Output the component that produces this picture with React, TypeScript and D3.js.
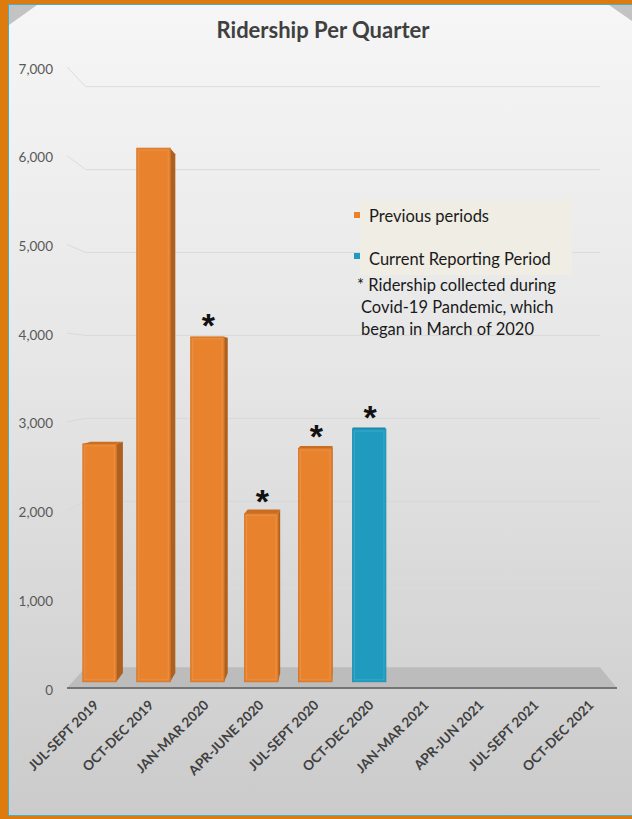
import React from "react";
import * as d3 from "d3";

const categories = [
  "JUL-SEPT 2019",
  "OCT-DEC 2019",
  "JAN-MAR 2020",
  "APR-JUNE 2020",
  "JUL-SEPT 2020",
  "OCT-DEC 2020",
  "JAN-MAR 2021",
  "APR-JUN 2021",
  "JUL-SEPT 2021",
  "OCT-DEC 2021",
];
const ridership = [2735, 6135, 3965, 1935, 2685, 2905];
const periodType = ["previous", "previous", "previous", "previous", "previous", "current"];
const covidFlag = [false, false, true, true, true, true];
const yTicks = [0, 1000, 2000, 3000, 4000, 5000, 6000, 7000];
const legendItems = ["Previous periods", "Current Reporting Period"];
const footnoteLines = [
  "* Ridership collected during",
  "Covid-19 Pandemic, which",
  "began in March of 2020",
];
const title = "Ridership Per Quarter";

const W = 632;
const H = 819;
const VX = 354;
const VY = 369;
const K = 0.065;
const D_FRONT = 0.3;
const D_BACK = 0.72;
const COLORS: Record<string, { front: string; side: string; top: string; edge: string }> = {
  previous: { front: "#E8822D", side: "#AE601F", top: "#C96D22", edge: "#D2701F" },
  current: { front: "#1F9BC0", side: "#17779A", top: "#1A86AA", edge: "#1C8DB2" },
};

const P = (x: number, y: number, d: number): [number, number] => {
  const s = 1 - K * d;
  return [VX + (x - VX) * s, VY + (y - VY) * s];
};
const poly = (pts: [number, number][]) => pts.map((p) => p.join(",")).join(" ");

export default function App() {
  const x = d3.scaleBand<string>().domain(categories).range([67, 617]).paddingInner(0.38).paddingOuter(0.19);
  const y = d3.scaleLinear().domain([0, 7000]).range([688, 67]);
  const fmt = d3.format(",");
  const bw = x.bandwidth();
  const y0 = y(0);

  const floorPts: [number, number][] = [
    P(67, y0, 0),
    P(617, y0, 0),
    P(617, y0, 1),
    P(67, y0, 1),
  ];

  return (
    <svg width={W} height={H} style={{ position: "absolute", left: 0, top: 0 }} fontFamily="Lato, 'Open Sans', sans-serif">
      <defs>
        <linearGradient id="bg" x1="0" y1="0" x2="0" y2="1">
          <stop offset="0%" stopColor="#f6f6f6" />
          <stop offset="45%" stopColor="#e6e6e6" />
          <stop offset="100%" stopColor="#cbcbcb" />
        </linearGradient>
      </defs>
      <rect x={0} y={0} width={W} height={H} fill="#DE7B0E" />
      <rect x={8} y={4} width={W} height={812} fill="#4BACC6" />
      <rect x={9} y={5} width={W} height={810} fill="url(#bg)" />
      <polygon points="9,5 37,5 9,25" fill="#c3c3c3" />
      <polygon points="609,5 632,5 632,21" fill="#c3c3c3" />

      <text x={323} y={38} textAnchor="middle" fontSize={22} fontWeight="bold" fill="#404040">
        {title}
      </text>

      {/* gridlines */}
      {yTicks.filter((t) => t > 0).map((t) => {
        const a = P(67, y(t), 0);
        const b = P(67, y(t), 1);
        const c = P(617, y(t), 1);
        return (
          <polyline key={t} points={poly([a, b, c])} fill="none" stroke="#d6d6d6" strokeWidth={1} opacity={0.8} />
        );
      })}

      {/* y labels */}
      {yTicks.map((t) => (
        <text key={t} x={53} y={y(t) + 1.5} textAnchor="end" dominantBaseline="central" fontSize={13.5} fill="#595959">
          {fmt(t)}
        </text>
      ))}

      {/* floor */}
      <polygon points={poly(floorPts)} fill="#bcbcbc" />
      <line x1={67} x2={617} y1={y0} y2={y0} stroke="#747474" strokeWidth={2} />

      {/* bars */}
      {ridership.map((v, i) => {
        const c = COLORS[periodType[i]];
        const x0 = x(categories[i]) as number;
        const x1 = x0 + bw;
        const yt = y(v);
        const fTL = P(x0, yt, D_FRONT), fTR = P(x1, yt, D_FRONT), fBR = P(x1, y0, D_FRONT), fBL = P(x0, y0, D_FRONT);
        const bTL = P(x0, yt, D_BACK), bTR = P(x1, yt, D_BACK), bBR = P(x1, y0, D_BACK), bBL = P(x0, y0, D_BACK);
        let side: [number, number][] | null = null;
        if (fTR[0] < VX - 1) side = [fTR, bTR, bBR, fBR];
        else if (fTL[0] > VX + 1) side = [fTL, bTL, bBL, fBL];
        const top = fTL[1] > VY ? [fTL, fTR, bTR, bTL] as [number, number][] : null;
        return (
          <g key={i}>
            {side && <polygon points={poly(side)} fill={c.side} />}
            {top && <polygon points={poly(top)} fill={c.top} />}
            <rect x={fTL[0]} y={fTL[1]} width={fTR[0] - fTL[0]} height={fBL[1] - fTL[1]} fill={c.front} stroke={c.edge} strokeWidth={0.8} />
            <rect x={fTL[0] + 2} y={fTL[1] + 2} width={fTR[0] - fTL[0] - 4} height={fBL[1] - fTL[1] - 4} fill="none" stroke="#ffffff" strokeOpacity={0.12} strokeWidth={1} />
            {covidFlag[i] && (
              <text x={(fTL[0] + fTR[0]) / 2 + 1} y={fTL[1]} textAnchor="middle" fontSize={34} fontWeight="bold" fontFamily="'Liberation Sans', Arial, sans-serif" fill="#111">
                *
              </text>
            )}
          </g>
        );
      })}

      {/* x labels */}
      {categories.map((cat) => {
        const cx = (x(cat) as number) + bw / 2;
        return (
          <text key={cat} transform={`translate(${cx + 5},${706}) rotate(-45)`} textAnchor="end" fontSize={13.5} fontWeight="bold" fill="#404040">
            {cat}
          </text>
        );
      })}

      {/* legend */}
      <rect x={360} y={200} width={212} height={75} fill="#efede4" />
      {legendItems.map((lbl, i) => (
        <g key={lbl}>
          <rect x={354} y={212 + i * 41} width={6} height={6} fill={COLORS[i === 0 ? "previous" : "current"].front} />
          <text x={369} y={222 + i * 43} fontSize={16.5} fill="#1a1a1a">
            {lbl}
          </text>
        </g>
      ))}
      {footnoteLines.map((ln, i) => (
        <text key={ln} x={i === 0 ? 357 : 361} y={291 + i * 22} fontSize={16.5} fill="#1a1a1a">
          {ln}
        </text>
      ))}
    </svg>
  );
}
